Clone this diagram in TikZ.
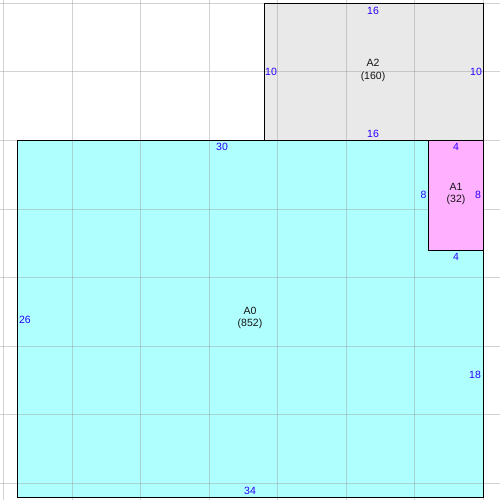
\documentclass[tikz,border=0pt]{standalone}
\usepackage{fontspec}
\setmainfont{Liberation Sans}
\definecolor{aCyan}{RGB}{176,255,255}
\definecolor{aGray}{RGB}{233,233,233}
\definecolor{aPink}{RGB}{255,176,255}
\definecolor{gridC}{RGB}{150,150,150}
\definecolor{numC}{RGB}{40,0,255}
\definecolor{nameC}{RGB}{20,20,20}
\begin{document}
\begin{tikzpicture}[x=1pt,y=-1pt,
  gridline/.style={draw=gridC,opacity=0.42,line width=1pt},
  border/.style={draw=black,line width=1pt},
  dimlbl/.style={text=numC,font=\fontsize{10.5}{12}\selectfont,inner sep=0pt},
  arealbl/.style={text=nameC,font=\fontsize{10.5}{12.5}\selectfont,align=center,inner sep=0pt}]
\useasboundingbox (0,0) rectangle (500,500);
\fill[white] (0,0) rectangle (500,500);
% fills
\fill[aCyan] (17.5,140.5) rectangle (483.5,497);
\fill[aGray] (264.5,3.5) rectangle (483.5,140.5);
% grid
\foreach \v in {3.5,72,140.5,209,277.5,346,414.5,483}{
  \draw[gridline] (\v,0) -- (\v,500);
  \draw[gridline] (0,\v) -- (500,\v);
}
\fill[aPink] (428.5,140.5) rectangle (483.5,250);
% borders
\draw[border] (17.5,140.5) rectangle (483.5,497);
\draw[border] (264.5,3.5) rectangle (483.5,140.5);
\draw[border] (428.5,140.5) rectangle (483.5,250);
% A2 labels
\node[arealbl] (a2) at (373,70.5) {A2\\(160)};
\node[dimlbl] (a2t) at (373,10.5) {16};
\node[dimlbl] (a2b) at (373,134) {16};
\node[dimlbl] (a2l) at (271,72) {10};
\node[dimlbl] (a2r) at (476,72) {10};
% A0 labels
\node[arealbl] (a0) at (250,318) {A0\\(852)};
\node[dimlbl] (a0t) at (222,147) {30};
\node[dimlbl] (a0l) at (25,320) {26};
\node[dimlbl] (a0b) at (250,490.5) {34};
\node[dimlbl] (a0r) at (475,374.5) {18};
% A1 labels
\node[arealbl] (a1) at (456,194) {A1\\(32)};
\node[dimlbl] (a1t) at (456,147) {4};
\node[dimlbl] (a1b) at (456,257) {4};
\node[dimlbl] (a1l) at (423.5,195) {8};
\node[dimlbl] (a1r) at (478,195) {8};
\end{tikzpicture}
\end{document}
